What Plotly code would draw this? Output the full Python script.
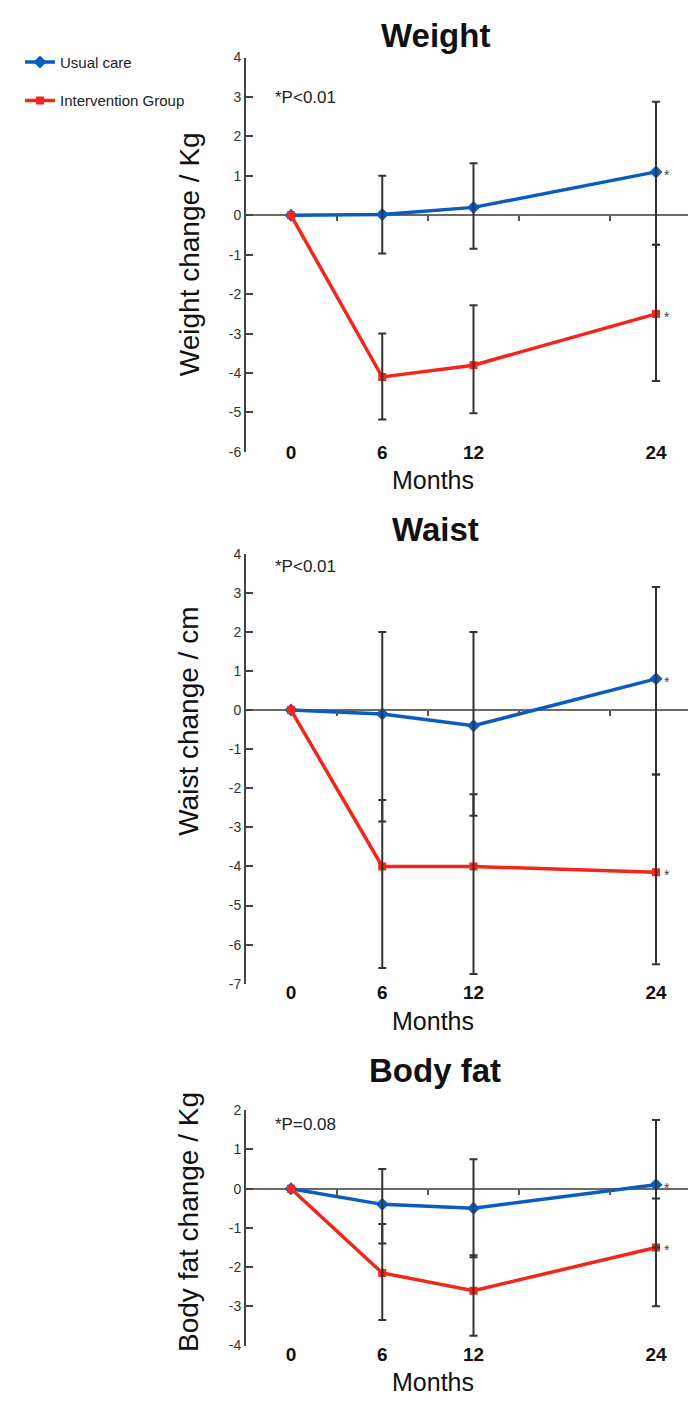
import plotly.graph_objects as go

# ---------------- data ----------------
months = [0, 6, 12, 24]
month_ticks = [0, 6, 12, 24]
month_tick_labels = ["0", "6", "12", "24"]
minor_months = [3, 9, 15, 21]

weight_usual = [0, 0.02, 0.2, 1.1]
weight_usual_plus = [0, 0.98, 1.12, 1.78]
weight_usual_minus = [0, 0.99, 1.05, 1.85]
weight_int = [0, -4.1, -3.8, -2.5]
weight_int_plus = [0, 1.1, 1.52, 1.75]
weight_int_minus = [0, 1.08, 1.22, 1.7]

waist_usual = [0, -0.1, -0.4, 0.8]
waist_usual_plus = [0, 2.1, 2.4, 2.35]
waist_usual_minus = [0, 2.75, 2.3, 2.45]
waist_int = [0, -4.0, -4.0, -4.15]
waist_int_plus = [0, 1.7, 1.85, 2.5]
waist_int_minus = [0, 2.6, 2.75, 2.35]

fat_usual = [0, -0.4, -0.5, 0.1]
fat_usual_plus = [0, 0.9, 1.25, 1.65]
fat_usual_minus = [0, 1.0, 1.25, 1.6]
fat_int = [0, -2.15, -2.6, -1.5]
fat_int_plus = [0, 1.25, 0.9, 1.25]
fat_int_minus = [0, 1.2, 1.15, 1.5]

panel_titles = ["Weight", "Waist", "Body fat"]
y_titles = ["Weight change / Kg", "Waist change / cm", "Body fat change / Kg"]
p_texts = ["*P<0.01", "*P<0.01", "*P=0.08"]
y_ranges = [[-6, 4], [-7, 4], [-4, 2]]
series_names = ["Usual care", "Intervention Group"]

# ---------------- style ----------------
OFF = 8                      # page body margin
W, H = 696 - 2 * OFF, 1406 - 2 * OFF
BLUE = "#0b5cbf"
RED = "#f2261a"
ERR = "#333333"
FONT = "Liberation Sans, Arial, sans-serif"


def px_x(sx):
    return (sx - OFF) / W


def px_y(sy):
    return 1 - (sy - OFF) / H


# screen-pixel layout of the three panels
panels_px = [(50, 449), (552, 987), (1115, 1353)]   # plot area top / bottom
title_y = [28, 527, 1075]
months_y = [477, 1025, 1390]
p_y = [90, 565, 1129]
ytitle_y = [249, 722, 1228]
xtick_standoff = [-13, -5, -5]
x_left_px = 246
x0_px, x24_px = 291, 656
ppm = (x24_px - x0_px) / 24.0
x_range = [(x_left_px - x0_px) / ppm, (W + OFF - x0_px) / ppm]

fig = go.Figure()

data_sets = [
    (weight_usual, weight_usual_plus, weight_usual_minus, weight_int, weight_int_plus, weight_int_minus),
    (waist_usual, waist_usual_plus, waist_usual_minus, waist_int, waist_int_plus, waist_int_minus),
    (fat_usual, fat_usual_plus, fat_usual_minus, fat_int, fat_int_plus, fat_int_minus),
]

for i, (u, up, um, v, vp, vm) in enumerate(data_sets):
    n = i + 1
    xa = "x" if n == 1 else f"x{n}"
    ya = "y" if n == 1 else f"y{n}"
    show = (i == 0)
    fig.add_trace(go.Scatter(x=months, y=u, mode="lines+markers", name=series_names[0],
                             line=dict(color=BLUE, width=3.5),
                             marker=dict(symbol="diamond", size=10, color=BLUE),
                             showlegend=show, legendgroup="u", xaxis=xa, yaxis=ya))
    fig.add_trace(go.Scatter(x=months, y=v, mode="lines+markers", name=series_names[1],
                             line=dict(color=RED, width=3.5),
                             marker=dict(symbol="square", size=8, color=RED),
                             showlegend=show, legendgroup="v", xaxis=xa, yaxis=ya))
    # error bars drawn on top
    for vals, pl, mi in ((u, up, um), (v, vp, vm)):
        fig.add_trace(go.Scatter(x=months[1:], y=vals[1:], mode="markers",
                                 marker=dict(size=1, color="rgba(0,0,0,0)"),
                                 error_y=dict(type="data", symmetric=False, array=pl[1:],
                                              arrayminus=mi[1:], color=ERR,
                                              thickness=2, width=4),
                                 showlegend=False, hoverinfo="skip", xaxis=xa, yaxis=ya))
    # empty trace so that the minor-tick overlay axis is drawn
    fig.add_trace(go.Scatter(x=[], y=[], mode="markers", showlegend=False,
                             hoverinfo="skip", xaxis=f"x{n + 3}", yaxis=ya))

    top, bot = panels_px[i]
    dom = [px_y(bot), px_y(top)]
    yr = y_ranges[i]
    yvals = list(range(yr[0], yr[1] + 1))
    fig.layout[f"xaxis{n if n > 1 else ''}"] = dict(
        domain=[px_x(x_left_px), 1.0], range=x_range, anchor=ya,
        tickmode="array", tickvals=month_ticks, ticktext=month_tick_labels,
        showline=False, ticks="", showgrid=False, zeroline=False,
        tickfont=dict(family=FONT, size=19, color="#111111", weight="bold"),
        ticklabelstandoff=xtick_standoff[i],
    )
    fig.layout[f"yaxis{n if n > 1 else ''}"] = dict(
        domain=dom, range=yr, anchor=xa,
        tickmode="array", tickvals=yvals, ticktext=[str(t) for t in yvals],
        showline=True, linecolor="#444444", linewidth=2,
        ticks="inside", ticklen=7, tickcolor="#444444", tickwidth=1.5,
        showgrid=False, zeroline=True, zerolinecolor="#6a6a6a", zerolinewidth=2,
        tickfont=dict(family=FONT, size=14, color="#333333"),
    )
    # minor ticks on the zero line
    zero_pos = dom[0] + (0 - yr[0]) / (yr[1] - yr[0]) * (dom[1] - dom[0])
    fig.layout[f"xaxis{n + 3}"] = dict(
        overlaying=xa, anchor="free", position=zero_pos, range=x_range,
        domain=[px_x(x_left_px), 1.0], side="bottom",
        tickmode="array", tickvals=minor_months, showticklabels=False,
        ticks="outside", ticklen=5, tickcolor="#555555", tickwidth=1.5,
        showline=False, showgrid=False, zeroline=False,
    )
    # panel title, y title, x title, p-value, asterisks
    fig.add_annotation(text=f"<b>{panel_titles[i]}</b>", xref="paper", yref="paper",
                       x=px_x(435), y=px_y(title_y[i]), xanchor="center", yanchor="middle",
                       showarrow=False, font=dict(family=FONT, size=33, color="#111111"))
    fig.add_annotation(text=y_titles[i], xref="paper", yref="paper", textangle=-90,
                       x=px_x(189), y=px_y(ytitle_y[i]), xanchor="center", yanchor="middle",
                       showarrow=False, font=dict(family=FONT, size=28, color="#111111"))
    fig.add_annotation(text="Months", xref="paper", yref="paper",
                       x=px_x(433), y=px_y(months_y[i]), xanchor="center", yanchor="middle",
                       showarrow=False, font=dict(family=FONT, size=25, color="#111111"))
    fig.add_annotation(text=p_texts[i], xref="paper", yref="paper",
                       x=px_x(273), y=px_y(p_y[i]), xanchor="left", yanchor="middle",
                       showarrow=False, font=dict(family=FONT, size=17, color="#222222"))
    for vals in (u, v):
        fig.add_annotation(text="*", xref=xa, yref=ya, x=months[-1], y=vals[-1],
                           xshift=11, yshift=-3, showarrow=False,
                           font=dict(family=FONT, size=14, color="#444444"))

fig.update_layout(
    width=W, height=H, autosize=False,
    margin=dict(l=0, r=0, t=0, b=0),
    paper_bgcolor="white", plot_bgcolor="white",
    showlegend=True,
    legend=dict(x=px_x(20), y=px_y(38), xanchor="left", yanchor="top",
                bgcolor="rgba(0,0,0,0)", tracegroupgap=16, itemwidth=30,
                font=dict(family=FONT, size=15, color="#222222")),
)

fig.write_html("out.html")
